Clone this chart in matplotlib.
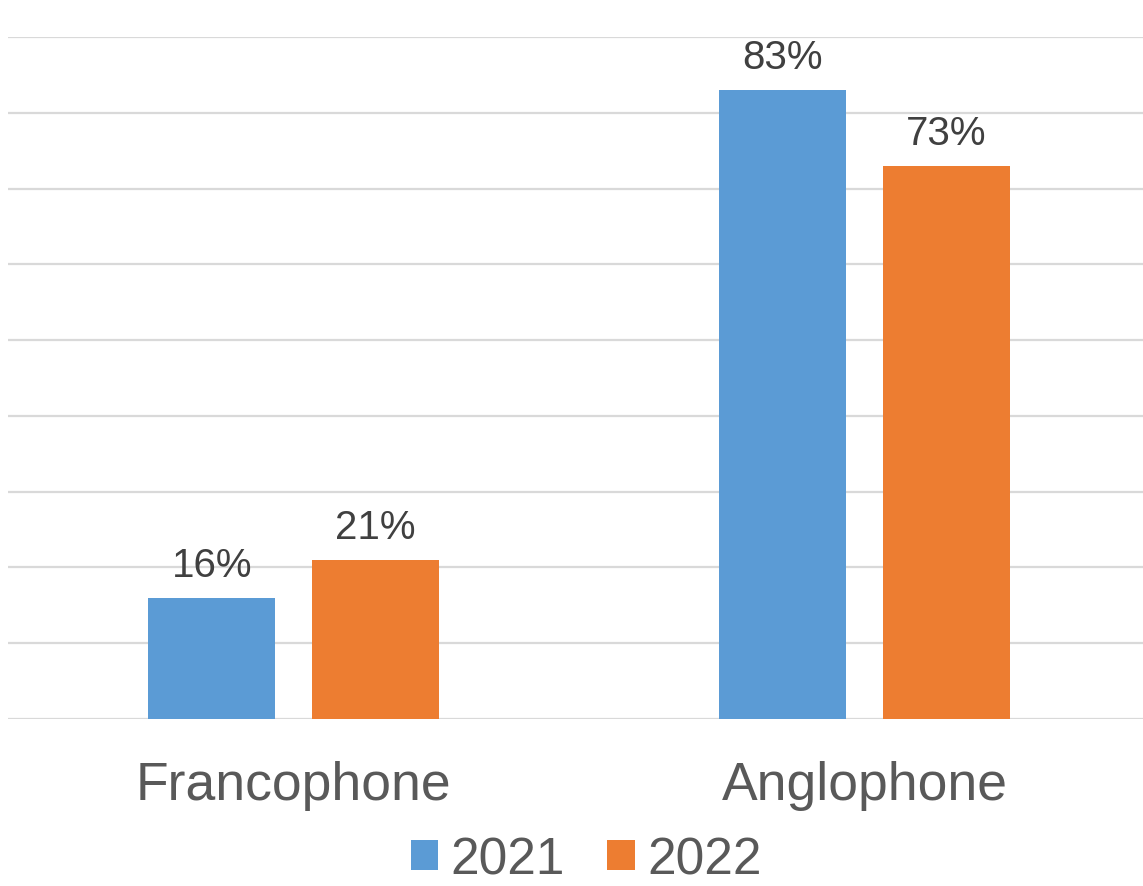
import matplotlib
matplotlib.use("Agg")
import matplotlib.pyplot as plt
import matplotlib.transforms as mtransforms
from matplotlib.patches import Patch
import numpy as np

plt.rcParams['font.family'] = ['Liberation Sans', 'DejaVu Sans']

categories = ["Francophone", "Anglophone"]
series_names = ["2021", "2022"]
values_2021 = [16, 83]
values_2022 = [21, 73]
colors = ["#5B9BD5", "#ED7D31"]

W, H = 1143, 887
fig = plt.figure(figsize=(W / 100, H / 100), dpi=100)
ax = fig.add_axes([8 / W, 167 / H, 1 - 8 / W, 682 / H])

x = np.arange(len(categories))
bw = 0.2225
off = 0.143
series = [values_2021, values_2022]
for i, (vals, col) in enumerate(zip(series, colors)):
    pos = x + (off if i == 1 else -off)
    ax.bar(pos, vals, width=bw, color=col, zorder=3)
    for px, v in zip(pos, vals):
        ax.annotate(f"{v}%", (px, v), xytext=(0, 15.8), textcoords="offset points",
                    ha="center", va="baseline", fontsize=29, color="#404040")

ax.set_xlim(-0.5, 1.5 - 7 / 571)
ax.set_ylim(0, 90)
ax.set_yticks(np.arange(0, 91, 10))
ax.yaxis.grid(True, color="#D9D9D9", linewidth=1.6, zorder=0)
ax.set_axisbelow(True)
ax.tick_params(left=False, bottom=False, labelleft=False, labelbottom=False)
for s in ax.spines.values():
    s.set_visible(False)

trans = mtransforms.blended_transform_factory(ax.transData, fig.transFigure)
for xi, c in zip(x, categories):
    ax.text(xi, 87 / H, c, transform=trans, ha="center", va="baseline",
            fontsize=38.5, color="#595959")

handles = [Patch(facecolor=c, edgecolor="none") for c in colors]
fig.legend(handles, series_names, loc="center", bbox_to_anchor=(0.513, 26 / H),
           ncol=2, frameon=False, fontsize=37, labelcolor="#595959",
           handlelength=0.53, handleheight=0.53, handletextpad=0.25,
           columnspacing=0.82, borderpad=0, borderaxespad=0)

fig.savefig("out.png", dpi=100)
